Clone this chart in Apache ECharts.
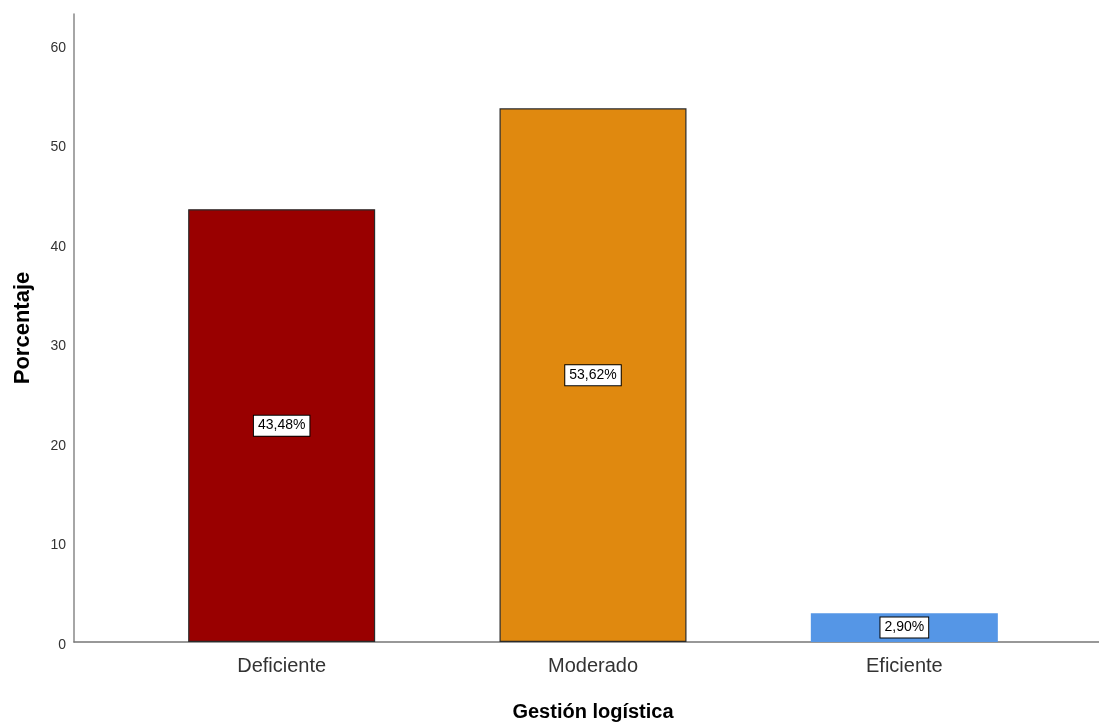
<!DOCTYPE html>
<html>
<head>
<meta charset="utf-8">
<script src="https://cdn.jsdelivr.net/npm/echarts@6/dist/echarts.min.js"></script>
<style>
html,body{margin:0;padding:0;background:#fff;}
#main{width:1099px;height:724px;}
</style>
</head>
<body>
<div id="main"></div>
<script>
const categories = ['Deficiente', 'Moderado', 'Eficiente'];
const values = [43.48, 53.62, 2.90];
const barColors = ['#990000', '#E0890F', '#5596E6'];
const yTicks = [0, 10, 20, 30, 40, 50, 60];

const FONT = '"Liberation Sans", Arial, sans-serif';
const chart = echarts.init(document.getElementById('main'), null, {renderer: 'canvas'});

const yMax = 63.1;

chart.setOption({
  animation: false,
  backgroundColor: '#fff',
  grid: [
    {left: 126, right: 39, top: 14, bottom: 82, outerBoundsMode: 'none', containLabel: false},
    {left: 74, right: 0, top: 14, bottom: 82, outerBoundsMode: 'none', containLabel: false}
  ],
  xAxis: [
    {
      type: 'category', gridIndex: 0, data: categories,
      axisLine: {show: false}, axisTick: {show: false},
      axisLabel: {fontFamily: FONT, fontSize: 20, color: '#333', margin: 14},
      name: 'Gestión logística', nameLocation: 'middle', nameGap: 60,
      nameTextStyle: {fontFamily: FONT, fontSize: 20, fontWeight: 'bold', color: '#000'}
    },
    {
      type: 'value', gridIndex: 1, min: 0, max: 1,
      axisLine: {show: true, lineStyle: {color: '#777', width: 1.5}},
      axisTick: {show: false}, axisLabel: {show: false}, splitLine: {show: false}
    }
  ],
  yAxis: [
    {
      type: 'value', gridIndex: 0, min: 0, max: yMax,
      show: false, splitLine: {show: false}
    },
    {
      type: 'value', gridIndex: 1, min: 0, max: yMax, interval: 10,
      axisLine: {show: true, lineStyle: {color: '#888', width: 1.5}},
      axisTick: {show: false}, splitLine: {show: false},
      axisLabel: {
        fontFamily: FONT, fontSize: 14, color: '#333', margin: 8,
        verticalAlign: 'top', lineHeight: 6,
        formatter: function (v) { return yTicks.indexOf(v) >= 0 ? String(v) : ''; }
      },
      name: 'Porcentaje', nameLocation: 'middle', nameGap: 40, nameRotate: 90,
      nameTextStyle: {fontFamily: FONT, fontSize: 22, fontWeight: 'bold', color: '#000'}
    }
  ],
  series: [{
    type: 'bar', xAxisIndex: 0, yAxisIndex: 0,
    barWidth: 187,
    data: values.map(function (v, i) {
      return {
        value: v,
        itemStyle: {
          color: barColors[i],
          borderColor: i < 2 ? '#2a2a2a' : barColors[i],
          borderWidth: i < 2 ? 1.2 : 0
        }
      };
    }),
    label: {
      show: true, position: 'inside',
      fontFamily: FONT, fontSize: 14, color: '#000',
      backgroundColor: '#fff', borderColor: '#000', borderWidth: 1,
      padding: [3, 4, 3, 4],
      formatter: function (p) { return p.value.toFixed(2).replace('.', ',') + '%'; }
    }
  }]
});
</script>
</body>
</html>
